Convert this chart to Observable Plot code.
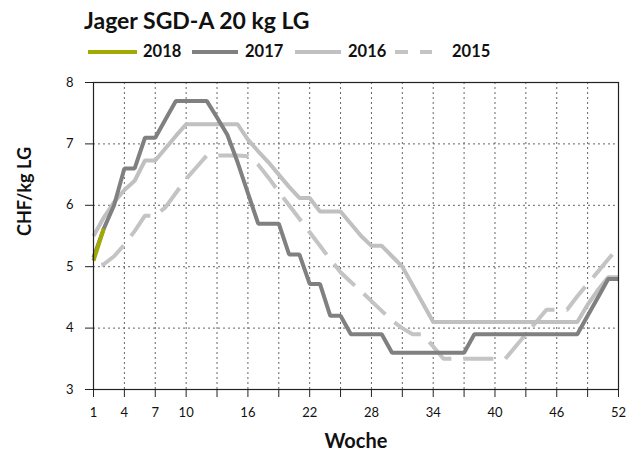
<!DOCTYPE html>
<html>
<head>
<meta charset="utf-8">
<script src="https://cdn.jsdelivr.net/npm/d3@7"></script>
<script src="https://cdn.jsdelivr.net/npm/@observablehq/plot@0.6"></script>
<style>
  html, body { margin: 0; padding: 0; background: #fff; }
  #wrap { position: relative; width: 640px; height: 459px; font-family: Lato, "Open Sans", sans-serif; color: #111; }
  #header { position: relative; width: 640px; height: 60px; }
  .title { position: absolute; left: 84px; top: 9px; font-size: 23px; line-height: 23px; font-weight: bold; white-space: nowrap; }
  .lt { position: absolute; top: 43px; font-size: 16.5px; line-height: 16.5px; font-weight: bold; white-space: nowrap; }
  .sw { position: absolute; top: 50px; height: 4px; }
</style>
</head>
<body>
<div id="wrap">
  <div id="header">
    <div class="title">Jager SGD-A 20 kg LG</div>
  </div>
  <div id="chart"></div>
</div>
<script>
// ---- data ----
const title = "Jager SGD-A 20 kg LG";
const seriesNames = ["2018", "2017", "2016", "2015"];
const seriesColors = ["#a0aa00", "#808080", "#c0c0c0", "#c4c4c4"];
const weeks = [1,2,3,4,5,6,7,8,9,10,11,12,13,14,15,16,17,18,19,20,21,22,23,24,25,26,
               27,28,29,30,31,32,33,34,35,36,37,38,39,40,41,42,43,44,45,46,47,48,49,50,51,52];
const v2018 = [5.1, 5.62];
const v2017 = [5.15,5.62,6.0,6.6,6.6,7.1,7.1,7.4,7.7,7.7,7.7,7.7,7.43,7.15,6.7,6.2,5.7,5.7,5.7,5.2,5.2,4.72,4.72,4.2,4.2,3.9,
               3.9,3.9,3.9,3.6,3.6,3.6,3.6,3.6,3.6,3.6,3.6,3.9,3.9,3.9,3.9,3.9,3.9,3.9,3.9,3.9,3.9,3.9,4.2,4.5,4.8,4.8];
const v2016 = [5.5,5.8,6.05,6.25,6.4,6.73,6.73,6.93,7.13,7.32,7.32,7.32,7.32,7.32,7.32,7.07,6.88,6.7,6.5,6.3,6.12,6.12,5.9,5.9,5.9,5.7,
               5.5,5.34,5.34,5.17,5.0,4.7,4.4,4.1,4.1,4.1,4.1,4.1,4.1,4.1,4.1,4.1,4.1,4.1,4.1,4.1,4.1,4.1,4.38,4.62,4.83,4.83];
const v2015 = [5.0,5.04,5.17,5.36,5.58,5.83,5.83,5.97,6.2,6.43,6.62,6.81,6.81,6.81,6.81,6.8,6.66,6.45,6.22,6.0,5.78,5.56,5.34,5.12,4.91,4.75,
               4.6,4.44,4.28,4.12,4.0,3.9,3.9,3.7,3.5,3.5,3.5,3.5,3.5,3.5,3.5,3.7,3.9,4.1,4.3,4.3,4.3,4.52,4.72,4.92,5.12,5.32];
const xTicks = [1,4,7,10,13,16,19,22,25,28,31,34,37,40,43,46,49,52];
const xTickLabels = [1,4,7,10,16,22,28,34,40,46,52];
const yTicks = [3,4,5,6,7,8];
const xGrid = [4,7,10,13,16,19,22,25,28,31,34,37,40,43,46,49];
const yGrid = [4,5,6,7];
const xTitle = "Woche";
const yTitle = "CHF/kg LG";

// ---- legend (HTML) ----
const header = document.getElementById("header");
const legendLayout = [
  {sw: 88, w: 49, tx: 143},
  {sw: 192, w: 46, tx: 245},
  {sw: 295, w: 46, tx: 348},
  {sw: 395, w: 37, tx: 452}
];
seriesNames.forEach((name, i) => {
  const L = legendLayout[i];
  if (i === 3) {
    [[0, 13], [25, 12]].forEach(([o, w]) => {
      const d = document.createElement("div");
      d.className = "sw";
      d.style.left = (L.sw + o) + "px"; d.style.width = w + "px"; d.style.background = seriesColors[i];
      header.appendChild(d);
    });
  } else {
    const d = document.createElement("div");
    d.className = "sw";
    d.style.left = L.sw + "px"; d.style.width = L.w + "px"; d.style.background = seriesColors[i];
    header.appendChild(d);
  }
  const t = document.createElement("div");
  t.className = "lt"; t.style.left = L.tx + "px"; t.textContent = name;
  header.appendChild(t);
});

const rows = (vals) => vals.map((v, i) => ({week: weeks[i], value: v}));

const chart = Plot.plot({
  width: 640,
  height: 399,
  marginLeft: 93,
  marginRight: 22,
  marginTop: 22,
  marginBottom: 70,
  style: {fontFamily: "Lato, 'Open Sans', sans-serif", fontSize: "13px", color: "#111", background: "#fff"},
  x: {domain: [1, 52]},
  y: {domain: [3, 8]},
  marks: [
    Plot.ruleX(xGrid, {stroke: "#666", strokeDasharray: "2,3", strokeWidth: 1}),
    Plot.ruleY(yGrid, {stroke: "#666", strokeDasharray: "2,3", strokeWidth: 1}),
    Plot.line(rows(v2015), {x: "week", y: "value", stroke: seriesColors[3], strokeWidth: 4,
      strokeDasharray: "30,12", strokeDashoffset: 34, strokeLinecap: "butt", strokeLinejoin: "miter"}),
    Plot.line(rows(v2016), {x: "week", y: "value", stroke: seriesColors[2], strokeWidth: 4, strokeLinecap: "butt", strokeLinejoin: "miter"}),
    Plot.line(rows(v2017), {x: "week", y: "value", stroke: seriesColors[1], strokeWidth: 4, strokeLinecap: "butt", strokeLinejoin: "miter"}),
    Plot.line(rows(v2018), {x: "week", y: "value", stroke: seriesColors[0], strokeWidth: 4, strokeLinecap: "butt", strokeLinejoin: "miter"}),
    Plot.frame({stroke: "#222", strokeWidth: 1.2}),
    Plot.axisX({ticks: xTicks, tickSize: 8, tickPadding: 10, stroke: "#222",
      tickFormat: d => xTickLabels.includes(d) ? String(d) : "", label: null}),
    Plot.axisY({ticks: yTicks, tickSize: 8, tickPadding: 12, stroke: "#222", tickFormat: d => String(d), label: null}),
    Plot.text([yTitle], {text: d => d, frameAnchor: "left", dx: -68, rotate: -90, fontWeight: "bold", fontSize: 18, fill: "#111"}),
    Plot.text([xTitle], {text: d => d, frameAnchor: "bottom", dy: 58, fontWeight: "bold", fontSize: 20, fill: "#111"})
  ]
});
document.getElementById("chart").appendChild(chart);
</script>
</body>
</html>
